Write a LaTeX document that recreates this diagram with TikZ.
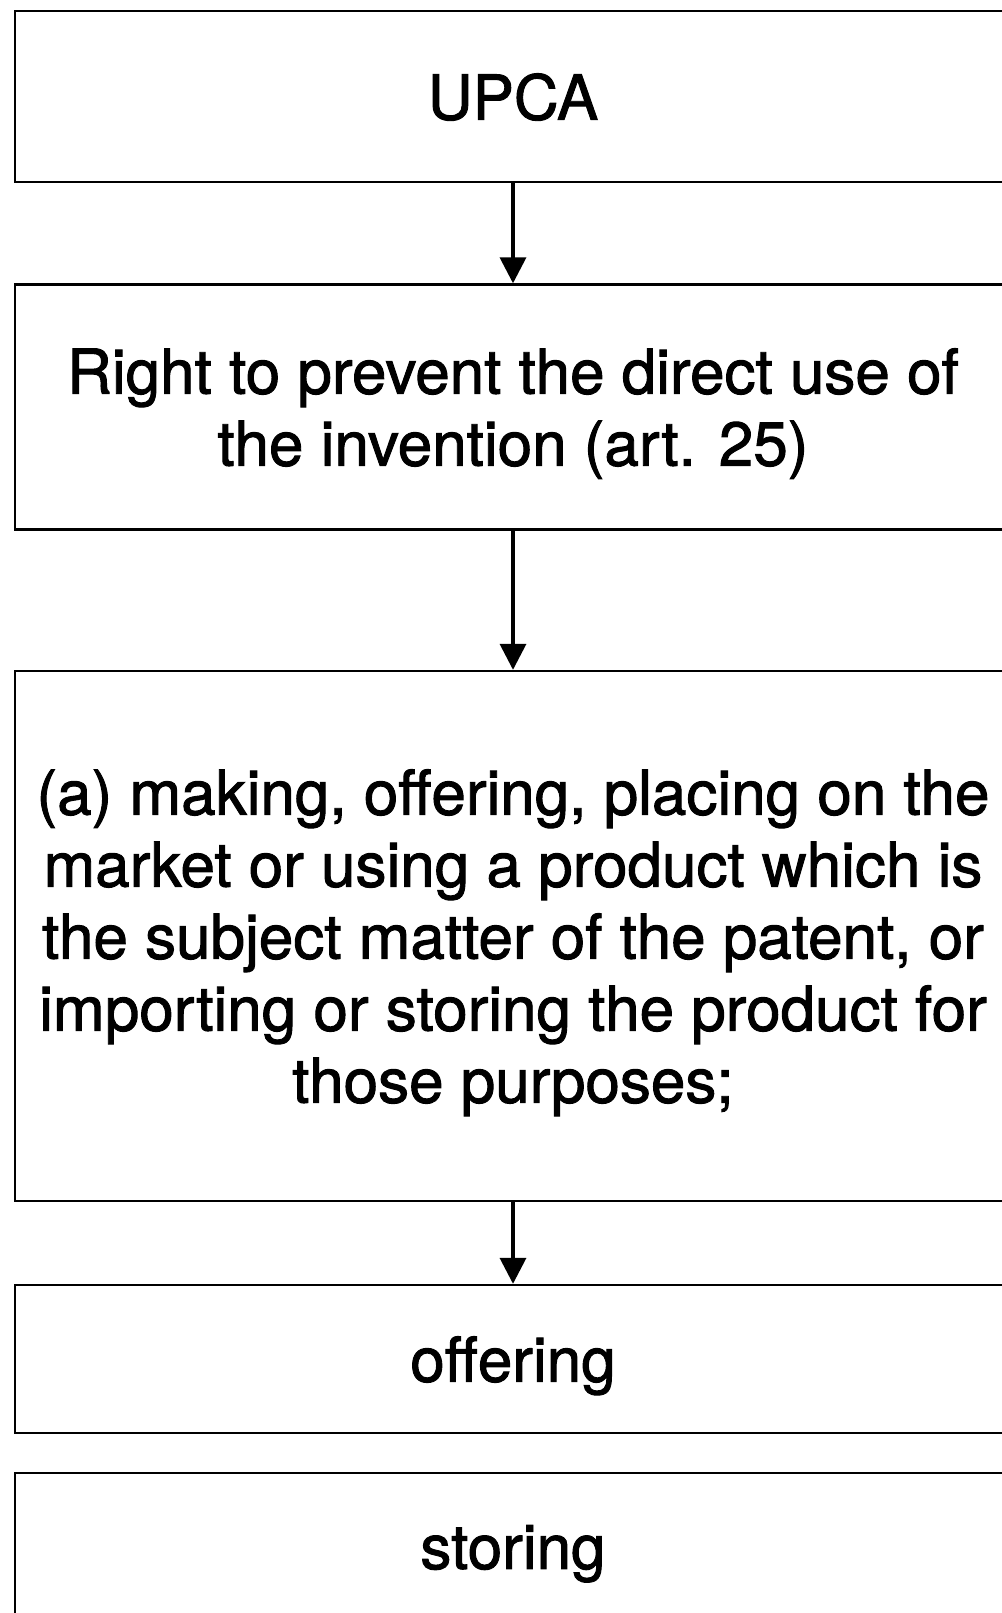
\documentclass[tikz,border=0pt]{standalone}
\usepackage{fontspec}
\setmainfont{TeX Gyre Heros}[FakeBold=1.5]
\usetikzlibrary{arrows.meta}

\tikzset{
	box/.style={draw, line width=1.2pt, minimum width=498pt, align=center, inner sep=0pt,
		text depth=0pt, font=\fontsize{31}{36}\selectfont},
	link/.style={line width=1.8pt, -{Triangle[width=13pt,length=13pt]}}
}

\begin{document}
\begin{tikzpicture}[x=0.5pt, y=-0.5pt]
	%frame
	\useasboundingbox (0,0) rectangle (1002,1613);
	
	%boxes
	\node[box, minimum height=85.5pt] (upca) at (513,96.5) {UPCA};
	\node[box, minimum height=122.5pt] (right) at (513,407) {Right to prevent the direct use of\\the invention (art. 25)};
	\node[box, minimum height=265pt] (acts) at (513,936) {(a) making, offering, placing on the\\market or using a product which is\\the subject matter of the patent, or\\importing or storing the product for\\those purposes;};
	\node[box, minimum height=74pt] (offer) at (513,1359) {offering};
	\node[box, minimum height=74pt] (store) at (513,1547) {storing};
	
	%arrows
	\draw[link] (upca) -- (right);
	\draw[link] (right) -- (acts);
	\draw[link] (acts) -- (offer);
\end{tikzpicture}
\end{document}
